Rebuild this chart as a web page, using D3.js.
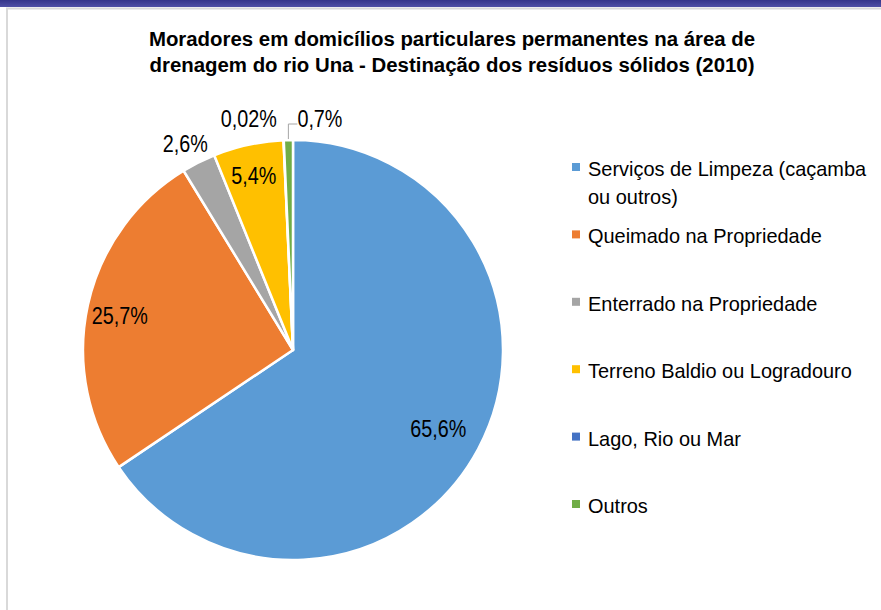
<!DOCTYPE html>
<html>
<head>
<meta charset="utf-8">
<script src="https://cdn.jsdelivr.net/npm/d3@7"></script>
<style>
  body { margin: 0; background: #fff; }
  svg { display: block; font-family: "Liberation Sans", Arial, sans-serif; }
</style>
</head>
<body>
<svg id="chart" width="881" height="610"></svg>
<script>
const categories = [
  "Serviços de Limpeza (caçamba ou outros)",
  "Queimado na Propriedade",
  "Enterrado na Propriedade",
  "Terreno Baldio ou Logradouro",
  "Lago, Rio ou Mar",
  "Outros",
];
const values = [65.6, 25.7, 2.6, 5.4, 0.02, 0.7];
const pctLabels = ["65,6%", "25,7%", "2,6%", "5,4%", "0,02%", "0,7%"];
const legendLines = [
  ["Serviços de Limpeza (caçamba", "ou outros)"],
  ["Queimado na Propriedade"],
  ["Enterrado na Propriedade"],
  ["Terreno Baldio ou Logradouro"],
  ["Lago, Rio ou Mar"],
  ["Outros"],
];
const titleLines = [
  "Moradores em domicílios particulares permanentes na área de",
  "drenagem do rio Una - Destinação dos resíduos sólidos (2010)",
];

const COLORS = ["#5b9bd5", "#ed7d31", "#a5a5a5", "#ffc000", "#4472c4", "#70ad47"];

const W = 881, H = 610;
const cx = 293, cy = 350, R = 210;

const svg = d3.select("#chart");

// frame: dark band on top, light grey border
const grad = svg.append("defs").append("linearGradient")
  .attr("id", "band").attr("x1", 0).attr("y1", 0).attr("x2", 0).attr("y2", 1);
grad.append("stop").attr("offset", "0%").attr("stop-color", "#35358a");
grad.append("stop").attr("offset", "100%").attr("stop-color", "#5050a6");
svg.append("rect").attr("x", 0).attr("y", 0).attr("width", W).attr("height", 7).attr("fill", "url(#band)");
svg.append("line").attr("x1", 6).attr("x2", W).attr("y1", 8.5).attr("y2", 8.5)
  .attr("stroke", "#d9d9d9").attr("stroke-width", 2);
svg.append("line").attr("x1", 7).attr("x2", 7).attr("y1", 8).attr("y2", H)
  .attr("stroke", "#d9d9d9").attr("stroke-width", 2);

// helper for squeezed text (the original looks squeezed horizontally)
function sqText(g, x, y, str, size, sx, weight, anchor) {
  return g.append("g")
    .attr("transform", `translate(${x},${y}) scale(${sx},1)`)
    .append("text")
    .attr("text-anchor", anchor || "start")
    .attr("font-size", size)
    .attr("font-weight", weight || "normal")
    .attr("fill", "#000")
    .text(str);
}

// title
titleLines.forEach((t, i) => sqText(svg, 452, 46 + i * 26, t, 20, 1.02, "bold", "middle"));

// pie
const data = categories.map((c, i) => ({ name: c, value: values[i], label: pctLabels[i], color: COLORS[i] }));
const pie = d3.pie().value((d) => d.value).sort(null);
const arcs = pie(data);
const arc = d3.arc().innerRadius(0).outerRadius(R);

const g = svg.append("g").attr("transform", `translate(${cx},${cy})`);
g.selectAll("path.slice")
  .data(arcs)
  .enter()
  .append("path")
  .attr("class", "slice")
  .attr("d", arc)
  .attr("fill", (d) => d.data.color)
  .attr("stroke", "#fff")
  .attr("stroke-width", 2.5)
  .attr("stroke-linejoin", "round");

// labels: inside for big slices, outside for the small ones
const labelArc = (k) => d3.arc().innerRadius(R * k).outerRadius(R * k);
const labelPos = [
  { k: 0.8, dx: -3, dy: 8 },
  { k: 0.82, dx: -5, dy: 11 },
  { k: 1.1, dx: -4, dy: 8 },
  { k: 0.83, dx: -2, dy: 4 },
  { k: 1.1, dx: -34, dy: 8 },
  { k: 1.1, dx: 32, dy: 8 },
];
arcs.forEach((a, i) => {
  const c = labelArc(labelPos[i].k).centroid(a);
  sqText(g, c[0] + labelPos[i].dx, c[1] + labelPos[i].dy, a.data.label, 23, 0.86, "normal", "middle");
});

// leader line for the tiny "Outros" slice
const last = arcs[arcs.length - 1];
const edge = d3.arc().innerRadius(R).outerRadius(R).centroid(last);
g.append("polyline")
  .attr("points", [[edge[0], edge[1] - 1], [edge[0], -R - 16], [edge[0] + 9, -R - 16]].map((p) => p.join(",")).join(" "))
  .attr("fill", "none")
  .attr("stroke", "#a6a6a6")
  .attr("stroke-width", 1);

// legend
const legendY = d3.scaleLinear().domain([0, 1]).range([176, 176 + 67.4]);
const legend = svg.append("g").attr("class", "legend");
data.forEach((d, i) => {
  const y = legendY(i);
  legend.append("rect")
    .attr("x", 572).attr("y", y - 13).attr("width", 8).attr("height", 8)
    .attr("fill", d.color);
  legendLines[i].forEach((line, j) => sqText(legend, 588, y + j * 27.5, line, 21, 0.95, "normal", "start"));
});
</script>
</body>
</html>
